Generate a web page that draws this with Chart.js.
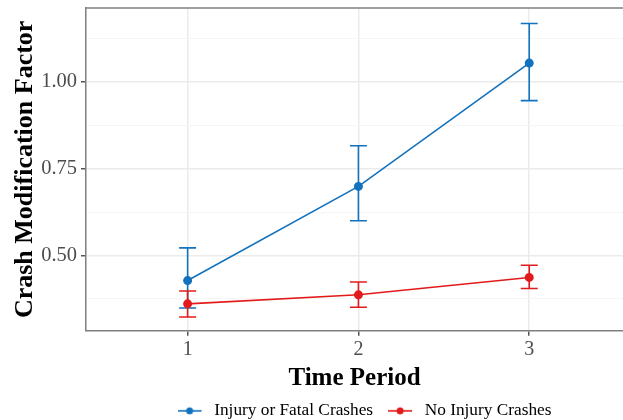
<!DOCTYPE html>
<html>
<head>
<meta charset="utf-8">
<script src="https://cdn.jsdelivr.net/npm/chart.js@4"></script>
<style>
  html, body { margin: 0; padding: 0; background: #ffffff; }
  #wrap { width: 623px; height: 420px; }
</style>
</head>
<body>
<div id="wrap"><canvas id="grafico"></canvas></div>
<script>
// Datos
const periodos = [1, 2, 3];
const etiquetasX = ["1", "2", "3"];
const ticksY = [0.375, 0.5, 0.625, 0.75, 0.875, 1.0, 1.125];

const cmfLesion = [0.428, 0.699, 1.054];
const cmfLesionBajo = [0.349, 0.600, 0.946];
const cmfLesionAlto = [0.522, 0.816, 1.168];

const cmfSinLesion = [0.361, 0.387, 0.437];
const cmfSinLesionBajo = [0.323, 0.351, 0.405];
const cmfSinLesionAlto = [0.398, 0.424, 0.472];

const colorAzul = "#1372bd";
const colorRojo = "#e31a1c";
const fuente = "'Liberation Serif', 'Times New Roman', serif";

function esMayor(v) {
  return Math.abs(v * 4 - Math.round(v * 4)) < 1e-6;
}

// sin margenes extra de las escalas
function sinPadding(s) {
  s.paddingTop = 0;
  s.paddingBottom = 0;
  s.paddingLeft = 0;
  s.paddingRight = 0;
}

// Icono de leyenda: linea con punto
function iconoLeyenda(color) {
  const c = document.createElement("canvas");
  c.width = 28;
  c.height = 10;
  const g = c.getContext("2d");
  g.strokeStyle = color;
  g.lineWidth = 1.6;
  g.beginPath();
  g.moveTo(0, 5);
  g.lineTo(24, 5);
  g.stroke();
  g.fillStyle = color;
  g.beginPath();
  g.arc(12, 5, 3.5, 0, Math.PI * 2);
  g.fill();
  return c;
}

// Barras de error usando las escalas de Chart.js
const barrasError = {
  id: "barrasError",
  beforeDatasetsDraw(chart) {
    const ctx = chart.ctx;
    const x = chart.scales.x;
    const y = chart.scales.y;
    const series = [
      { bajo: cmfLesionBajo, alto: cmfLesionAlto, color: colorAzul },
      { bajo: cmfSinLesionBajo, alto: cmfSinLesionAlto, color: colorRojo },
    ];
    ctx.save();
    for (const s of series) {
      ctx.strokeStyle = s.color;
      ctx.lineWidth = 1.6;
      for (let i = 0; i < periodos.length; i++) {
        const px = x.getPixelForValue(periodos[i]);
        const pb = y.getPixelForValue(s.bajo[i]);
        const pa = y.getPixelForValue(s.alto[i]);
        ctx.beginPath();
        ctx.moveTo(px, pb);
        ctx.lineTo(px, pa);
        ctx.moveTo(px - 8.5, pb);
        ctx.lineTo(px + 8.5, pb);
        ctx.moveTo(px - 8.5, pa);
        ctx.lineTo(px + 8.5, pa);
        ctx.stroke();
      }
    }
    ctx.restore();
  },
};

// Borde superior del panel y leyenda desplazada
const bordePanel = {
  id: "bordePanel",
  afterLayout(chart) {
    chart.legend.left += 53;
    chart.legend.right += 53;
  },
  afterDraw(chart) {
    const a = chart.chartArea;
    const ctx = chart.ctx;
    ctx.save();
    ctx.strokeStyle = "#7f7f7f";
    ctx.lineWidth = 1.5;
    ctx.beginPath();
    ctx.moveTo(a.left, a.top);
    ctx.lineTo(a.right, a.top);
    ctx.stroke();
    ctx.restore();
  },
};

new Chart(document.getElementById("grafico"), {
  type: "line",
  data: {
    datasets: [
      {
        label: "Injury or Fatal Crashes",
        data: periodos.map((p, i) => ({ x: p, y: cmfLesion[i] })),
        borderColor: colorAzul,
        backgroundColor: colorAzul,
        borderWidth: 1.6,
        pointRadius: 3.7,
        tension: 0,
      },
      {
        label: "No Injury Crashes",
        data: periodos.map((p, i) => ({ x: p, y: cmfSinLesion[i] })),
        borderColor: colorRojo,
        backgroundColor: colorRojo,
        borderWidth: 1.6,
        pointRadius: 3.7,
        tension: 0,
      },
    ],
  },
  options: {
    responsive: true,
    maintainAspectRatio: false,
    animation: false,
    layout: { autoPadding: false, padding: { top: 8, left: 0, right: 0, bottom: -9.5 } },
    scales: {
      x: {
        type: "linear",
        min: 0.405,
        max: 3.549,
        afterBuildTicks: (s) => {
          s.ticks = periodos.map((v) => ({ value: v }));
        },
        afterFit: (s) => {
          s.height = 56.5;
          sinPadding(s);
        },
        ticks: {
          padding: 2.5,
          color: "#4d4d4d",
          font: { family: fuente, size: 20 },
          callback: (v) => etiquetasX[periodos.indexOf(v)],
        },
        grid: {
          color: "#ebebeb",
          lineWidth: 1.5,
          tickLength: 5,
          tickColor: "#555555",
        },
        border: { color: "#7f7f7f", width: 1.5 },
        title: {
          display: true,
          text: "Time Period",
          color: "#000000",
          padding: 0,
          font: { family: fuente, size: 25, weight: "bold", lineHeight: 0.72 },
        },
      },
      y: {
        min: 0.2837,
        max: 1.2125,
        afterBuildTicks: (s) => {
          s.ticks = ticksY.map((v) => ({ value: v }));
        },
        afterFit: (s) => {
          s.width = 86;
          sinPadding(s);
        },
        ticks: {
          padding: 4,
          color: "#4d4d4d",
          font: { family: fuente, size: 20.5 },
          callback: (v) => (esMayor(v) ? v.toFixed(2) : ""),
        },
        grid: {
          color: (c) => (esMayor(c.tick.value) ? "#ebebeb" : "#f5f5f5"),
          lineWidth: (c) => (esMayor(c.tick.value) ? 1.5 : 1),
          tickLength: 5,
          tickColor: (c) => (esMayor(c.tick.value) ? "#555555" : "rgba(0,0,0,0)"),
        },
        border: { color: "#7f7f7f", width: 1.5 },
        title: {
          display: true,
          text: "Crash Modification Factor",
          color: "#000000",
          padding: { top: 12, bottom: 0 },
          font: { family: fuente, size: 26, weight: "bold", lineHeight: 1 },
        },
      },
    },
    plugins: {
      tooltip: { enabled: false },
      legend: {
        position: "bottom",
        labels: {
          usePointStyle: true,
          pointStyleWidth: 28,
          padding: 15,
          color: "#000000",
          font: { family: fuente, size: 17.3 },
          generateLabels: (chart) => {
            const items = Chart.defaults.plugins.legend.labels.generateLabels(chart);
            const colores = [colorAzul, colorRojo];
            items.forEach((it, i) => {
              it.pointStyle = iconoLeyenda(colores[i]);
            });
            return items;
          },
        },
      },
    },
  },
  plugins: [barrasError, bordePanel],
});
</script>
</body>
</html>
